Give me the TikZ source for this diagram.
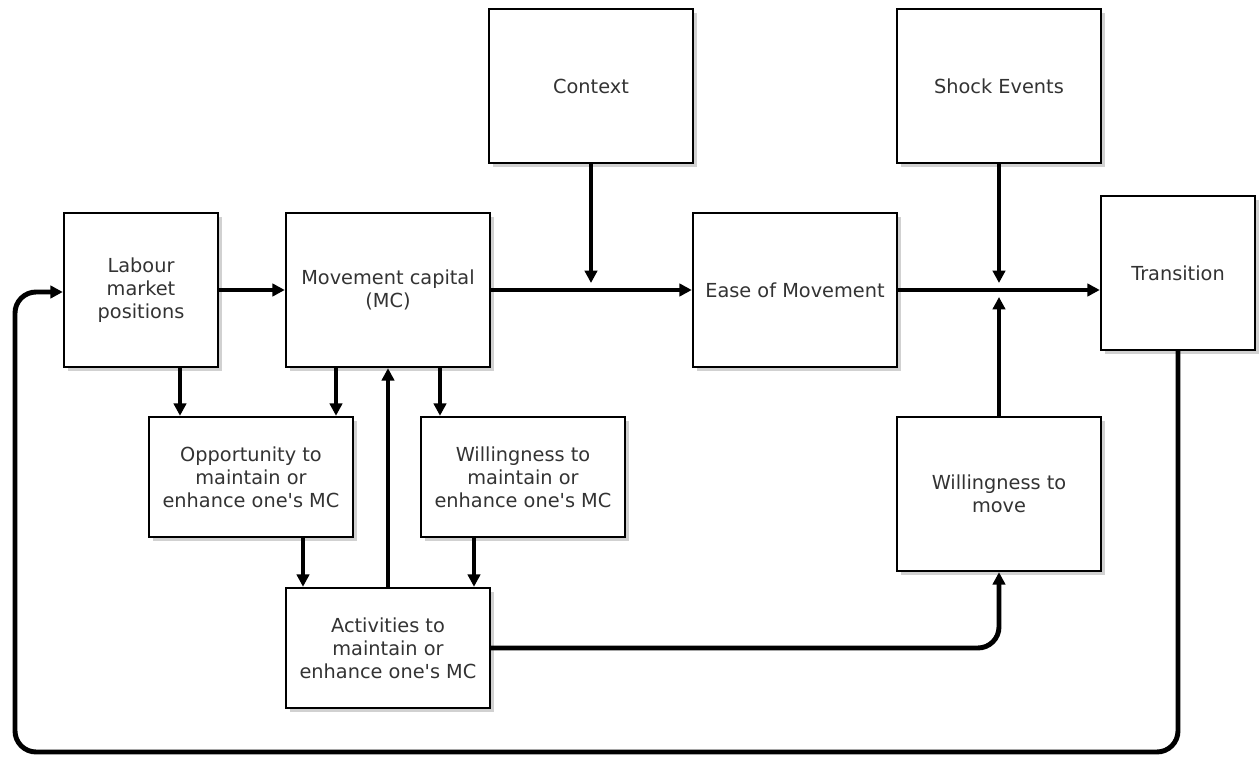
\documentclass[tikz,border=0pt]{standalone}
\usepackage{fontspec}
\setmainfont{DejaVu Sans}
\usetikzlibrary{arrows.meta,shadows}
\definecolor{txt}{HTML}{333333}
\begin{document}
\begin{tikzpicture}[x=0.02cm, y=-0.02cm,
  main node/.style={draw, line width=1.4pt, fill=white, align=center, text=txt,
    font=\fontsize{11}{13}\selectfont, inner sep=2pt,
    drop shadow={shadow xshift=2.5pt, shadow yshift=-2.5pt, fill=black!30, opacity=0.6}},
  big/.style={main node, minimum width=4.08cm, minimum height=3.08cm},
  sq/.style={main node, minimum width=3.08cm, minimum height=3.08cm},
  low/.style={main node, minimum width=4.08cm, minimum height=2.4cm},
  link/.style={-{Triangle[length=7pt, width=7pt]}, line width=2.8pt, rounded corners=12pt}]
\useasboundingbox (0,0) rectangle (1259,760);
\node[sq]  (lab) at (141,290)  {Labour\\market\\positions};
\node[big] (mc)  at (388,290)  {Movement capital\\(MC)};
\node[big] (ctx) at (591,86)   {Context};
\node[big] (eas) at (795,290)  {Ease of Movement};
\node[big] (shk) at (999,86)   {Shock Events};
\node[sq]  (trn) at (1178,273) {Transition};
\node[low] (opp) at (251,477)  {Opportunity to\\maintain or\\enhance one\textquotesingle s MC};
\node[low] (wil) at (523,477)  {Willingness to\\maintain or\\enhance one\textquotesingle s MC};
\node[big] (mov) at (999,494)  {Willingness to\\move};
\node[low] (act) at (388,648)  {Activities to\\maintain or\\enhance one\textquotesingle s MC};
\coordinate (cx) at (591,283);
\coordinate (sx) at (999,283);
\coordinate (mx) at (999,297);
% main line
\draw[link] (lab.east |- 0,290) -- (mc.west |- 0,290);
\draw[link] (mc.east |- 0,290) -- (eas.west |- 0,290);
\draw[link] (eas.east |- 0,290) -- (trn.west |- 0,290);
\draw[link] (ctx) -- (cx);
\draw[link] (shk) -- (sx);
\draw[link] (mov) -- (mx);
% lower boxes
\draw[link] (lab.south -| 180,0) -- (opp.north -| 180,0);
\draw[link] (mc.south -| 336,0) -- (opp.north -| 336,0);
\draw[link] (mc.south -| 440,0) -- (wil.north -| 440,0);
\draw[link] (opp.south -| 303,0) -- (act.north -| 303,0);
\draw[link] (wil.south -| 474,0) -- (act.north -| 474,0);
\draw[link] (act) -- (mc);
\draw[link] (act.east) -| (mov.south);
% feedback
\draw[link] (trn.south) -- (1178,752) -- (15,752) -- (15,292) -- (lab.west |- 0,292);
\end{tikzpicture}
\end{document}
